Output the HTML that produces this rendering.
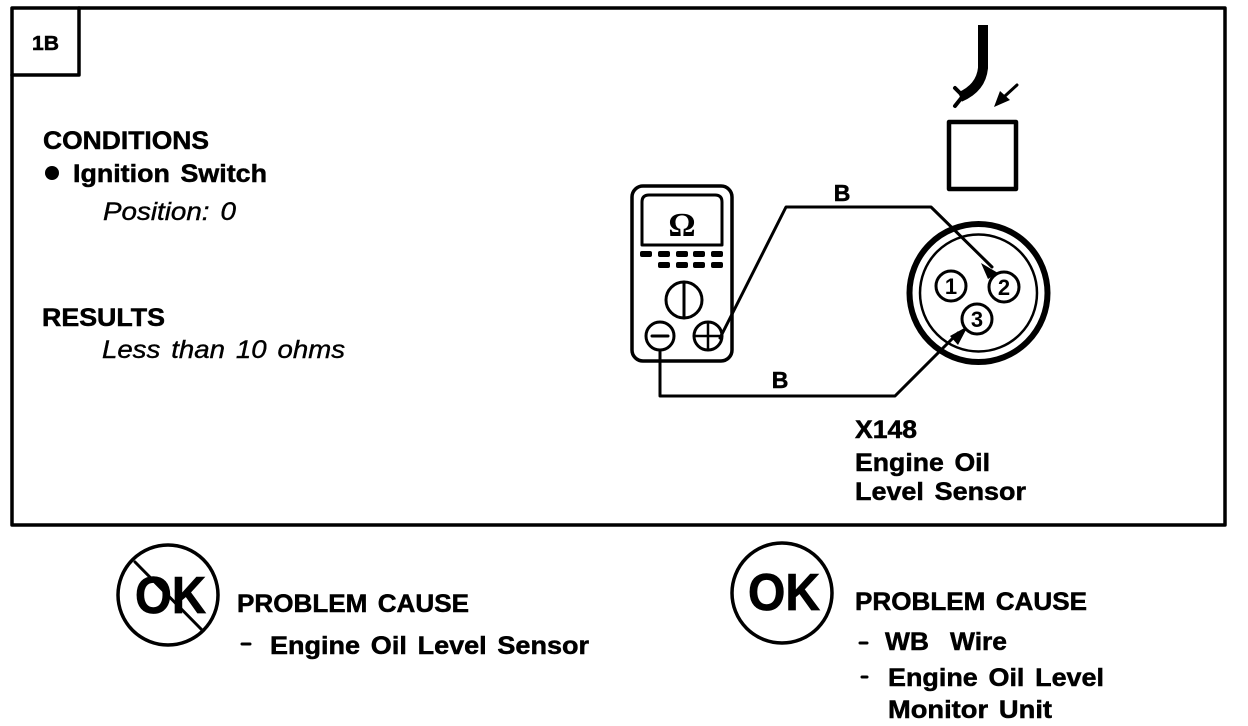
<!DOCTYPE html>
<html><head><meta charset="utf-8"><style>
html,body{margin:0;padding:0;background:#fff}
svg{display:block}
text{font-family:"Liberation Sans",sans-serif;fill:#000}
.b{font-weight:bold;font-size:25px;stroke:#000;stroke-width:.5px;word-spacing:3px}
.i{font-style:italic;font-size:25px;stroke:#000;stroke-width:.4px;word-spacing:3px}
.n{font-weight:bold;font-size:22px;text-anchor:middle}
.l{fill:none;stroke:#000;stroke-linejoin:round;stroke-linecap:round}
</style></head><body>
<svg width="1248" height="726" viewBox="0 0 1248 726" xmlns="http://www.w3.org/2000/svg">
<rect x="12" y="8" width="1213" height="517" class="l" stroke-width="3.5"/>
<path d="M12 75H79V8" class="l" stroke-width="3.5"/>
<text x="32" y="50" class="b" style="font-size:20px" textLength="27" lengthAdjust="spacingAndGlyphs">1B</text>
<text x="43" y="149" class="b" textLength="166" lengthAdjust="spacingAndGlyphs">CONDITIONS</text>
<circle cx="52" cy="173" r="7"/>
<text x="73" y="182" class="b" textLength="194" lengthAdjust="spacingAndGlyphs">Ignition Switch</text>
<text x="103" y="220" class="i" textLength="133" lengthAdjust="spacingAndGlyphs">Position: 0</text>
<text x="42" y="326" class="b" textLength="123" lengthAdjust="spacingAndGlyphs">RESULTS</text>
<text x="102" y="358" class="i" textLength="243" lengthAdjust="spacingAndGlyphs">Less than 10 ohms</text>

<path d="M983 25V68Q981 88 960 97" fill="none" stroke="#000" stroke-width="10" stroke-linejoin="round"/>
<path d="M955 88L963 96L955 106" class="l" stroke-width="4"/>
<path d="M1017 85L1005 96" class="l" stroke-width="3"/>
<path d="M994 107L1000 91L1010 100Z"/>
<rect x="949" y="122" width="67" height="67" class="l" stroke-width="4.5"/>

<rect x="632" y="186" width="100" height="175" rx="11" class="l" stroke-width="3.5"/>
<path d="M642 245V202Q642 195 649 195H715Q722 195 722 202V245Z" class="l" stroke-width="3"/>
<text x="682" y="236" style="font-family:'Liberation Serif',serif;font-weight:bold;font-size:34px;text-anchor:middle">Ω</text>
<g fill="#000">
<rect x="640" y="251" width="12" height="6" rx="2"/><rect x="658" y="251" width="12" height="6" rx="2"/><rect x="676" y="251" width="12" height="6" rx="2"/><rect x="693" y="251" width="12" height="6" rx="2"/><rect x="711" y="251" width="12" height="6" rx="2"/>
<rect x="658" y="262" width="12" height="6" rx="2"/><rect x="676" y="262" width="12" height="6" rx="2"/><rect x="693" y="262" width="12" height="6" rx="2"/><rect x="711" y="262" width="12" height="6" rx="2"/>
</g>
<circle cx="684" cy="300" r="18" class="l" stroke-width="3"/><path d="M684 282V318" class="l" stroke-width="3"/>
<circle cx="660" cy="336" r="14" class="l" stroke-width="3"/><path d="M652 336H668" class="l" stroke-width="3"/>
<circle cx="708" cy="336" r="14" class="l" stroke-width="3"/><path d="M694 336H722M708 322V350" class="l" stroke-width="2.5"/>

<path d="M720 338L786 207H931L992 267" class="l" stroke-width="3"/>
<path d="M660 350V396H895L958 333" class="l" stroke-width="3"/>
<path d="M981 263L998 273L988 279L981 263Z"/>
<path d="M968 326L950 336L958 345Z"/>
<text x="842" y="201" class="b" style="font-size:23px" text-anchor="middle">B</text>
<text x="780" y="388" class="b" style="font-size:23px" text-anchor="middle">B</text>

<circle cx="978.5" cy="293" r="69" class="l" stroke-width="6"/>
<circle cx="978.5" cy="293" r="58.5" class="l" stroke-width="2.5"/>
<circle cx="951" cy="286" r="15" fill="#fff" stroke="#000" stroke-width="3"/>
<circle cx="1004" cy="287" r="15" fill="#fff" stroke="#000" stroke-width="3"/>
<circle cx="977" cy="319" r="15" fill="#fff" stroke="#000" stroke-width="3"/>
<text x="951" y="294" class="n">1</text>
<text x="1004" y="295" class="n">2</text>
<text x="977" y="327" class="n">3</text>

<text x="855" y="438" class="b" textLength="62" lengthAdjust="spacingAndGlyphs">X148</text>
<text x="855" y="471" class="b" textLength="135" lengthAdjust="spacingAndGlyphs">Engine Oil</text>
<text x="855" y="500" class="b" textLength="171" lengthAdjust="spacingAndGlyphs">Level Sensor</text>

<circle cx="168" cy="595" r="50" class="l" stroke-width="3.5"/>
<text x="135" y="613" class="b" style="font-size:52px;stroke-width:.8px" textLength="71" lengthAdjust="spacingAndGlyphs">OK</text>
<path d="M135 562L202 630" class="l" stroke-width="3"/>
<text x="237" y="612" class="b" textLength="232" lengthAdjust="spacingAndGlyphs">PROBLEM CAUSE</text>
<path d="M242 644H250" class="l" stroke-width="3"/>
<text x="270" y="654" class="b" textLength="319" lengthAdjust="spacingAndGlyphs">Engine Oil Level Sensor</text>

<circle cx="782" cy="593" r="50" class="l" stroke-width="3.5"/>
<text x="748" y="610" class="b" style="font-size:52px;stroke-width:.8px" textLength="72" lengthAdjust="spacingAndGlyphs">OK</text>
<text x="855" y="610" class="b" textLength="232" lengthAdjust="spacingAndGlyphs">PROBLEM CAUSE</text>
<path d="M860 643H867" class="l" stroke-width="3"/>
<text x="885" y="650" class="b" textLength="122" lengthAdjust="spacingAndGlyphs">WB&#160;&#160;Wire</text>
<path d="M862 677H867" class="l" stroke-width="3"/>
<text x="888" y="686" class="b" textLength="216" lengthAdjust="spacingAndGlyphs">Engine Oil Level</text>
<text x="888" y="718" class="b" textLength="164" lengthAdjust="spacingAndGlyphs">Monitor Unit</text>
</svg>
</body></html>
